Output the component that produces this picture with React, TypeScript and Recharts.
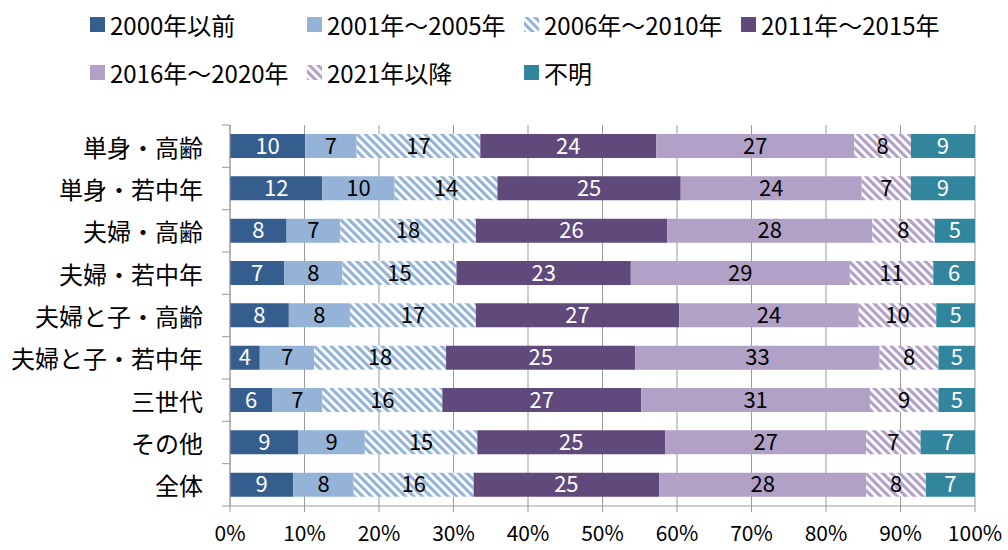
import { BarChart, Bar, XAxis, YAxis, CartesianGrid, LabelList, Legend } from 'recharts';

// household types, top to bottom
const categories = [
  '単身・高齢',
  '単身・若中年',
  '夫婦・高齢',
  '夫婦・若中年',
  '夫婦と子・高齢',
  '夫婦と子・若中年',
  '三世代',
  'その他',
  '全体',
];

const seriesNames = [
  '2000年以前',
  '2001年～2005年',
  '2006年～2010年',
  '2011年～2015年',
  '2016年～2020年',
  '2021年以降',
  '不明',
];

// shares in % (labels show them rounded)
const before2000 = [10.1, 12.4, 7.6, 7.3, 7.9, 4.0, 5.7, 9.2, 8.5];
const y2001to2005 = [6.9, 9.7, 7.2, 7.8, 8.2, 7.3, 6.7, 8.9, 8.1];
const y2006to2010 = [16.6, 13.8, 18.2, 15.3, 16.9, 17.7, 16.1, 15.1, 16.1];
const y2011to2015 = [23.6, 24.6, 25.7, 23.4, 27.3, 25.4, 26.7, 25.2, 24.9];
const y2016to2020 = [26.6, 24.3, 27.5, 29.4, 24.1, 32.8, 30.7, 27.0, 27.8];
const after2021 = [7.6, 6.6, 8.4, 11.2, 10.4, 7.9, 9.2, 7.3, 8.0];
const unknown = [8.6, 8.6, 5.4, 5.6, 5.2, 4.9, 4.9, 7.3, 6.6];

const xTicks = [0, 10, 20, 30, 40, 50, 60, 70, 80, 90, 100];

const seriesValues = [before2000, y2001to2005, y2006to2010, y2011to2015, y2016to2020, after2021, unknown];

const seriesFills = ['#355E8F', '#95B3D7', 'url(#hatchBlue)', '#604A7B', '#B2A1C7', 'url(#hatchPurple)', '#31859C'];
const labelColors = ['#fff', '#000', '#000', '#fff', '#000', '#000', '#fff'];

const chartData = categories.map((name, i) => {
  const row: Record<string, string | number> = { name };
  seriesValues.forEach((vals, s) => {
    row[`s${s}`] = vals[i];
  });
  return row;
});

const FONT = "'Noto Sans CJK JP', sans-serif";
const AXIS = '#9A9A9A';
const PLOT_TOP = 125;
const PLOT_BOTTOM = 506;
const BAND = (PLOT_BOTTOM - PLOT_TOP) / categories.length;

function CategoryTick(props: any) {
  const { x, y, payload, index } = props;
  return (
    <g>
      <text x={x - 27} y={y} textAnchor="end" dominantBaseline="central" fontSize={24} fill="#000">
        {payload.value}
      </text>
      <line x1={x - 8} x2={x} y1={y + BAND / 2} y2={y + BAND / 2} stroke={AXIS} />
      {index === 0 && <line x1={x - 8} x2={x} y1={y - BAND / 2} y2={y - BAND / 2} stroke={AXIS} />}
    </g>
  );
}

// legend laid out as a 4-column grid like the original
function renderLegend() {
  return (
    <div style={{ position: 'relative', width: 1008, height: 100, fontFamily: FONT }}>
      {seriesNames.map((n, i) => {
        const col = i < 4 ? i : i - 4;
        const row = i < 4 ? 0 : 1;
        return (
          <div
            key={n}
            style={{
              position: 'absolute',
              left: 90 + col * 217,
              top: row === 0 ? 11 : 59,
              height: 27,
              display: 'flex',
              alignItems: 'center',
              fontSize: 24,
              color: '#000',
              whiteSpace: 'nowrap',
            }}
          >
            <svg width={15} height={15} style={{ marginRight: 5 }}>
              <rect width={15} height={15} fill={seriesFills[i]} />
            </svg>
            {n}
          </div>
        );
      })}
    </div>
  );
}

export default function App() {
  return (
    <div style={{ position: 'absolute', left: 0, top: 0, width: 1008, height: 550, fontFamily: FONT, background: '#fff' }}>
      <BarChart
        width={1008}
        height={550}
        data={chartData}
        layout="vertical"
        margin={{ top: 25, right: 33, bottom: 0, left: 0 }}
        barSize={24}
      >
        <defs>
          <pattern id="hatchBlue" width="6" height="6" patternUnits="userSpaceOnUse" patternTransform="rotate(-45)">
            <rect width="6" height="6" fill="#fff" />
            <rect width="3.2" height="6" fill="#95B3D7" />
          </pattern>
          <pattern id="hatchPurple" width="6" height="6" patternUnits="userSpaceOnUse" patternTransform="rotate(-45)">
            <rect width="6" height="6" fill="#fff" />
            <rect width="3.2" height="6" fill="#B2A1C7" />
          </pattern>
        </defs>
        <Legend verticalAlign="top" align="left" content={renderLegend} wrapperStyle={{ top: 0, left: 0, width: 1008, height: 100 }} />
        <CartesianGrid horizontal={false} stroke={AXIS} />
        <XAxis
          type="number"
          domain={[0, 100]}
          ticks={xTicks}
          allowDataOverflow
          tickFormatter={(v) => `${v}%`}
          height={44}
          axisLine={{ stroke: AXIS }}
          tickLine={{ stroke: AXIS }}
          tickSize={6}
          tickMargin={14}
          tick={{ fill: '#000', fontSize: 21 }}
          interval={0}
        />
        <YAxis
          type="category"
          dataKey="name"
          width={230}
          axisLine={{ stroke: AXIS }}
          tickLine={false}
          tickSize={0}
          tickMargin={0}
          tick={<CategoryTick />}
          interval={0}
        />
        {seriesNames.map((n, i) => (
          <Bar key={n} dataKey={`s${i}`} name={n} stackId="a" fill={seriesFills[i]} isAnimationActive={false}>
            <LabelList
              dataKey={`s${i}`}
              position="center"
              fill={labelColors[i]}
              fontSize={22}
              formatter={(v: any) => Math.round(Number(v))}
            />
          </Bar>
        ))}
      </BarChart>
    </div>
  );
}
